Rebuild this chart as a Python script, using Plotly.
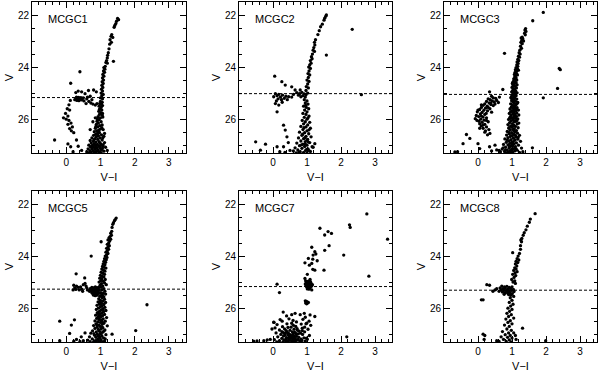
import plotly.graph_objects as go

# colour-magnitude diagrams: (V-I, V) per cluster
PANEL_NAMES = ["MCGC1", "MCGC2", "MCGC3", "MCGC5", "MCGC7", "MCGC8"]
HB_LEVEL = [25.17, 25.02, 25.05, 25.27, 25.17, 25.31]

MCGC1 = [
    (1.50, 22.13), (1.53, 22.18), (1.47, 22.24), (1.45, 22.33), (1.42, 22.40), (1.40, 22.47),
    (1.33, 22.75), (1.31, 22.82), (1.36, 22.86), (1.28, 22.95), (1.32, 23.05), (1.27, 23.12),
    (1.25, 23.30), (1.23, 23.45), (1.21, 23.55), (1.20, 23.65), (1.18, 23.75), (1.16, 23.82),
    (1.20, 23.85), (1.38, 23.78), (1.14, 23.97), (1.10, 24.02), (1.13, 24.08), (1.09, 24.15),
    (1.12, 24.20), (1.07, 24.28), (1.10, 24.35), (1.06, 24.42), (1.09, 24.50), (1.05, 24.56),
    (1.08, 24.63), (1.04, 24.70), (1.07, 24.78), (1.03, 24.85), (1.06, 24.92), (1.02, 25.00),
    (1.08, 25.05), (1.04, 25.10), (1.00, 25.18), (1.06, 25.22), (0.40, 24.18), (0.13, 24.62),
    (0.28, 24.98), (0.35, 24.92), (0.45, 24.95), (0.55, 25.02), (0.65, 24.90), (0.80, 24.88),
    (0.88, 24.95), (0.30, 25.15), (0.33, 25.18), (0.36, 25.16), (0.40, 25.19), (0.43, 25.17),
    (0.47, 25.20), (0.50, 25.18), (0.29, 25.22), (0.34, 25.24), (0.38, 25.23), (0.42, 25.25),
    (0.46, 25.26), (0.25, 25.25), (0.31, 25.28), (0.37, 25.29), (0.52, 25.30), (0.60, 25.22),
    (0.66, 25.32), (0.72, 25.38), (0.78, 25.42), (0.85, 25.46), (0.90, 25.40), (0.62, 25.15),
    (0.70, 25.12), (0.75, 25.25), (0.58, 25.40), (0.12, 25.28), (0.08, 25.45), (0.03, 25.60),
    (0.10, 25.65), (-0.02, 25.78), (0.05, 25.88), (-0.08, 25.95), (0.00, 26.00), (0.08, 26.05),
    (0.14, 26.15), (0.05, 26.20), (0.18, 26.30), (0.10, 26.36), (0.22, 26.52), (0.15, 26.45),
    (-0.34, 26.80), (0.30, 26.80), (0.35, 27.04), (0.13, 27.06), (0.05, 26.95), (0.45, 27.20),
    (0.20, 27.25), (1.00, 25.32), (1.05, 25.35), (0.98, 25.40), (1.03, 25.45), (0.96, 25.50),
    (1.02, 25.55), (1.06, 25.48), (0.99, 25.60), (1.04, 25.65), (0.95, 25.70), (1.01, 25.75),
    (0.97, 25.82), (1.05, 25.85), (0.93, 25.90), (1.00, 25.95), (1.07, 25.92), (0.96, 26.02),
    (0.90, 26.08), (1.02, 26.10), (0.94, 26.15), (0.88, 26.20), (1.05, 26.22), (0.98, 26.25),
    (0.92, 26.30), (0.85, 26.35), (1.00, 26.38), (0.95, 26.42), (1.08, 26.40), (0.89, 26.45),
    (0.82, 26.48), (0.97, 26.52), (0.91, 26.55), (0.86, 26.58), (1.03, 26.60), (0.80, 26.62),
    (0.94, 26.65), (0.88, 26.68), (1.10, 26.66), (0.75, 26.72), (0.99, 26.72), (0.84, 26.75),
    (0.92, 26.78), (1.05, 26.80), (0.70, 26.82), (0.79, 26.85), (0.96, 26.86), (0.87, 26.88),
    (1.12, 26.90), (0.73, 26.92), (0.82, 26.94), (1.01, 26.95), (0.91, 26.97), (0.66, 27.00),
    (0.77, 27.00), (0.86, 27.02), (0.95, 27.04), (1.07, 27.03), (0.71, 27.07), (0.80, 27.08),
    (1.15, 27.08), (0.90, 27.10), (0.99, 27.12), (0.64, 27.14), (0.75, 27.15), (0.84, 27.16),
    (1.04, 27.17), (0.93, 27.19), (0.69, 27.21), (0.79, 27.22), (0.88, 27.24), (1.10, 27.23),
    (0.97, 27.26), (0.73, 27.27), (0.83, 27.28), (1.02, 27.29), (0.60, 27.25), (1.20, 27.20),
    (0.70, 26.40), (0.78, 26.10), (0.85, 25.95), (1.12, 26.55), (1.08, 26.98),
    (1.03, 25.38), (0.97, 25.63), (1.06, 25.78), (0.91, 25.98), (1.04, 26.33), (0.87, 26.27),
    (0.93, 26.62), (1.07, 26.71), (0.81, 26.79), (0.98, 26.91), (0.74, 27.05), (0.92, 27.23),
    (1.06, 27.11), (0.68, 27.29), (0.86, 27.12), (1.00, 27.02), (0.95, 26.48), (0.83, 26.98),
]

MCGC2 = [
    (1.57, 22.00), (1.55, 22.05), (1.52, 22.12), (1.50, 22.20), (1.45, 22.35), (1.40, 22.45),
    (1.36, 22.60), (1.32, 22.75), (1.25, 22.95), (1.22, 23.05), (1.23, 23.15), (1.20, 23.25),
    (1.18, 23.35), (1.22, 23.40), (1.16, 23.50), (1.13, 23.60), (1.15, 23.68), (1.10, 23.75),
    (1.12, 23.85), (1.08, 23.92), (1.05, 24.00), (1.10, 24.05), (1.06, 24.15), (1.03, 24.25),
    (1.08, 24.30), (1.04, 24.40), (1.00, 24.50), (1.06, 24.55), (1.02, 24.65), (0.98, 24.75),
    (1.04, 24.80), (0.97, 24.90), (2.33, 22.55), (1.57, 23.54), (2.60, 25.06),
    (0.05, 24.35), (0.26, 24.56), (0.36, 24.69), (0.55, 24.76), (0.65, 24.88), (0.80, 24.88),
    (0.46, 25.14), (0.07, 25.02), (0.12, 25.10), (0.17, 25.05), (0.22, 25.15), (0.28, 25.08),
    (0.33, 25.20), (0.38, 25.12), (0.42, 25.25), (0.02, 25.14), (0.15, 25.22), (0.25, 25.25),
    (0.07, 25.40), (0.17, 25.46), (0.27, 25.35), (0.10, 25.30), (0.70, 24.98), (0.78, 25.02),
    (0.85, 24.97), (0.92, 25.03), (0.75, 25.08), (0.88, 25.10), (0.97, 25.06), (0.82, 25.14),
    (0.95, 25.15), (1.02, 25.00), (0.60, 25.05), (0.55, 25.15),
    (0.92, 25.25), (1.00, 25.30), (0.95, 25.38), (1.03, 25.42), (0.90, 25.50), (0.98, 25.55),
    (1.05, 25.60), (0.93, 25.65), (1.00, 25.72), (0.88, 25.78), (0.97, 25.82), (1.06, 25.88),
    (0.92, 25.93), (1.00, 26.00), (0.86, 26.05), (0.95, 26.10), (1.08, 26.12), (0.90, 26.18),
    (1.02, 26.22), (0.82, 26.28), (0.97, 26.30), (1.10, 26.35), (0.88, 26.40), (1.00, 26.45),
    (0.78, 26.50), (0.93, 26.52), (1.05, 26.56), (0.85, 26.62), (0.97, 26.66), (1.12, 26.68),
    (0.75, 26.72), (0.90, 26.75), (1.02, 26.78), (0.82, 26.84), (0.95, 26.86), (1.08, 26.90),
    (0.70, 26.92), (0.88, 26.96), (1.00, 27.00), (0.78, 27.02), (0.93, 27.05), (1.15, 27.06),
    (0.65, 27.10), (0.85, 27.12), (1.03, 27.14), (0.73, 27.18), (0.96, 27.20), (0.60, 27.22),
    (0.80, 27.25), (1.10, 27.24), (0.90, 27.28), (0.68, 27.30), (1.00, 27.30), (1.23, 26.94),
    (1.18, 27.08), (1.00, 26.80), (0.95, 26.95), (1.05, 27.20), (0.36, 26.42), (0.31, 26.23),
    (0.41, 26.68), (0.12, 27.06), (0.31, 27.06), (-0.51, 26.87), (-0.37, 27.19), (-0.22, 26.96),
    (0.12, 25.72), (0.45, 26.90), (0.20, 27.25), (0.50, 27.20), (0.35, 27.28),
    (0.96, 25.47), (1.03, 25.95), (0.91, 26.33), (1.06, 26.41), (0.94, 26.71), (0.84, 26.99),
    (1.04, 26.88), (0.99, 27.16), (0.76, 27.27), (0.87, 26.58),
]

MCGC3 = [
    (1.92, 21.90), (1.61, 22.22), (0.78, 23.47), (2.39, 24.05), (2.42, 24.10), (2.34, 24.82),
    (1.92, 25.18), (1.60, 27.10), (0.73, 24.86),
    (1.40, 22.52), (1.38, 22.58), (1.41, 22.63), (1.37, 22.70), (1.39, 22.76), (1.30, 22.85),
    (1.27, 22.88), (1.32, 22.92), (1.29, 22.97), (1.34, 23.00), (1.26, 23.05), (1.30, 23.10),
    (1.25, 23.20), (1.28, 23.28), (1.23, 23.35), (1.21, 23.45), (1.24, 23.50), (1.19, 23.58),
    (1.22, 23.62), (1.17, 23.70), (1.20, 23.75), (1.15, 23.80), (1.18, 23.86), (1.14, 23.92),
    (1.17, 23.97), (1.12, 24.02), (1.16, 24.06), (1.10, 24.10), (1.14, 24.15), (1.19, 24.12),
    (1.09, 24.20), (1.13, 24.24), (1.07, 24.28), (1.11, 24.32), (1.16, 24.30), (1.08, 24.38),
    (1.12, 24.42), (1.05, 24.45), (1.10, 24.48), (1.14, 24.50), (1.04, 24.55), (1.08, 24.58),
    (1.12, 24.60), (1.01, 24.63), (1.06, 24.66), (1.15, 24.68), (1.03, 24.72), (1.09, 24.74),
    (1.00, 24.78), (1.13, 24.80), (1.05, 24.83), (1.08, 24.87), (1.02, 24.90), (1.11, 24.92),
    (0.99, 24.95), (1.06, 24.97), (1.15, 24.99), (1.03, 25.02), (1.09, 25.05), (1.00, 25.08),
    (1.12, 25.10), (1.05, 25.13), (0.97, 25.16), (1.08, 25.18), (1.02, 25.21), (1.14, 25.23),
    (1.06, 25.26), (0.99, 25.29), (1.10, 25.31), (1.03, 25.34), (1.17, 25.36), (1.07, 25.39),
    (0.96, 25.41), (1.12, 25.44), (1.01, 25.46), (1.05, 25.49), (1.09, 25.52), (0.98, 25.54),
    (1.15, 25.56), (1.03, 25.58), (0.94, 25.61), (1.07, 25.63), (1.19, 25.65), (1.00, 25.67),
    (1.11, 25.69), (0.96, 25.72), (1.05, 25.74), (1.14, 25.76), (0.92, 25.78), (1.02, 25.80),
    (1.09, 25.82), (1.20, 25.84), (0.97, 25.86), (1.06, 25.88), (1.13, 25.90), (0.94, 25.93),
    (1.01, 25.95), (1.10, 25.97), (1.17, 25.99), (0.90, 26.01), (1.04, 26.03), (0.98, 26.06),
    (1.12, 26.08), (1.07, 26.10), (0.93, 26.13), (1.20, 26.15), (1.01, 26.17), (1.15, 26.19),
    (0.88, 26.21), (1.05, 26.23), (0.96, 26.26), (1.10, 26.28), (1.00, 26.31), (1.18, 26.33),
    (0.91, 26.35), (1.07, 26.37), (1.03, 26.40), (0.95, 26.42), (1.13, 26.44), (0.86, 26.47),
    (1.09, 26.49), (0.99, 26.52), (1.16, 26.54), (0.92, 26.56), (1.05, 26.58), (0.84, 26.61),
    (1.22, 26.62), (1.01, 26.64), (0.95, 26.67), (1.11, 26.69), (0.88, 26.71), (1.04, 26.73),
    (0.79, 26.76), (1.17, 26.77), (0.97, 26.79), (1.08, 26.81), (0.91, 26.84), (1.25, 26.85),
    (1.00, 26.87), (0.83, 26.89), (1.13, 26.91), (0.94, 26.93), (1.06, 26.95), (0.75, 26.97),
    (0.88, 26.99), (1.19, 27.00), (1.02, 27.02), (0.97, 27.04), (1.10, 27.06), (0.81, 27.08),
    (0.92, 27.10), (1.28, 27.11), (1.05, 27.13), (0.71, 27.15), (0.99, 27.16), (0.86, 27.18),
    (1.15, 27.19), (0.94, 27.21), (1.08, 27.22), (0.78, 27.24), (0.66, 27.25), (1.02, 27.26),
    (0.89, 27.27), (1.22, 27.28), (0.96, 27.29), (0.83, 27.30), (0.62, 27.20), (0.74, 27.10),
    (1.32, 27.25), (1.04, 25.95), (1.10, 26.62), (1.00, 26.95), (1.07, 24.88), (1.12, 25.62),
    (1.02, 24.60), (1.10, 24.96), (0.98, 25.20), (1.15, 25.40), (1.04, 25.70), (0.95, 25.97),
    (1.14, 26.05), (1.02, 26.27), (0.90, 26.50), (1.07, 26.46), (0.97, 26.63), (1.18, 26.70),
    (0.86, 26.81), (1.03, 26.88), (0.92, 27.02), (1.12, 27.14), (0.80, 27.20), (1.00, 27.24),
    (0.91, 26.33), (1.08, 25.85),
    (0.34, 24.95), (0.63, 25.15), (0.40, 25.12), (0.45, 25.18), (0.52, 25.20), (0.30, 25.22),
    (0.36, 25.25), (0.55, 25.28), (0.42, 25.30), (0.25, 25.32), (0.48, 25.34), (0.60, 25.36),
    (0.33, 25.38), (0.20, 25.41), (0.38, 25.44), (0.15, 25.47), (0.45, 25.48), (0.27, 25.50),
    (0.10, 25.55), (0.22, 25.58), (0.35, 25.60), (0.05, 25.63), (0.17, 25.66), (0.28, 25.68),
    (-0.02, 25.72), (0.12, 25.74), (0.40, 25.73), (0.07, 25.80), (0.20, 25.82), (-0.05, 25.86),
    (0.02, 25.90), (0.15, 25.92), (0.25, 25.95), (-0.08, 25.98), (0.08, 26.00), (0.18, 26.04),
    (0.03, 26.08), (0.12, 26.12), (0.30, 26.10), (0.05, 26.18), (0.20, 26.20), (0.10, 26.26),
    (0.25, 26.30), (0.15, 26.35), (0.32, 26.40), (0.22, 26.45), (0.35, 26.55), (0.28, 26.60),
    (0.10, 25.45), (0.30, 25.55), (0.00, 25.65), (0.24, 25.78), (0.10, 25.88), (-0.03, 26.05),
    (0.25, 26.05), (0.15, 26.22), (0.38, 25.38), (0.50, 25.42), (0.05, 26.35), (0.20, 26.50),
    (-0.34, 26.59), (-0.44, 26.94), (-0.24, 26.74), (-0.68, 27.26), (-0.60, 27.25), (0.00, 26.94),
    (0.05, 27.13), (0.34, 27.06), (0.40, 27.22), (0.50, 27.00), (0.55, 27.18),
]

MCGC5 = [
    (1.46, 22.54), (1.43, 22.60), (1.41, 22.64), (1.38, 22.72), (1.36, 22.78), (1.34, 22.90),
    (1.33, 23.05), (1.30, 23.12), (1.32, 23.20), (1.28, 23.25), (1.25, 23.30), (1.30, 23.35),
    (1.22, 23.38), (1.27, 23.42), (1.24, 23.50), (1.20, 23.55), (1.26, 23.60), (1.22, 23.66),
    (1.18, 23.70), (1.24, 23.74), (1.20, 23.80), (1.16, 23.85), (1.22, 23.90), (1.18, 23.95),
    (1.14, 24.00), (1.19, 24.05), (1.12, 24.10), (1.17, 24.14), (1.10, 24.20), (1.15, 24.24),
    (1.08, 24.30), (1.13, 24.33), (1.06, 24.40), (1.11, 24.43), (1.16, 24.46), (1.04, 24.50),
    (1.09, 24.54), (1.13, 24.58), (1.02, 24.62), (1.07, 24.66), (1.12, 24.70), (1.00, 24.74),
    (1.05, 24.78), (1.10, 24.80), (0.98, 24.85), (1.04, 24.88), (1.14, 24.90), (1.01, 24.94),
    (1.08, 24.97), (0.96, 25.00), (1.12, 25.03), (1.03, 25.06), (1.17, 25.10), (0.99, 25.12),
    (1.07, 25.15), (0.73, 24.00), (1.02, 23.45), (0.29, 24.68), (0.54, 24.84), (2.36, 25.87),
    (2.03, 26.86), (1.34, 27.00),
    (0.22, 25.12), (0.30, 25.15), (0.25, 25.22), (0.35, 25.20), (0.42, 25.18), (0.50, 25.10),
    (0.55, 25.05), (0.28, 25.28), (0.38, 25.30), (0.45, 25.27), (0.60, 25.22), (0.62, 25.30),
    (0.20, 25.30), (0.48, 25.35), (0.58, 25.15),
    (0.75, 25.20), (0.80, 25.22), (0.85, 25.18), (0.90, 25.21), (0.95, 25.20), (0.78, 25.26),
    (0.83, 25.28), (0.88, 25.25), (0.93, 25.27), (0.72, 25.30), (0.77, 25.32), (0.82, 25.34),
    (0.87, 25.31), (0.92, 25.33), (0.97, 25.30), (0.74, 25.37), (0.79, 25.38), (0.84, 25.40),
    (0.89, 25.37), (0.94, 25.39), (0.76, 25.43), (0.81, 25.45), (0.86, 25.44), (0.91, 25.46),
    (0.96, 25.43), (0.80, 25.50), (0.85, 25.52), (0.90, 25.50), (0.70, 25.25), (0.68, 25.35),
    (1.02, 25.20), (1.10, 25.25), (1.05, 25.30), (1.13, 25.35), (1.01, 25.40), (1.08, 25.43),
    (1.15, 25.46), (1.03, 25.50), (0.98, 25.55), (1.10, 25.57), (1.05, 25.60), (0.95, 25.64),
    (1.12, 25.66), (1.00, 25.70), (1.07, 25.73), (0.93, 25.76), (1.15, 25.78), (1.03, 25.81),
    (0.97, 25.84), (1.10, 25.86), (0.90, 25.89), (1.05, 25.91), (1.00, 25.95), (1.13, 25.97),
    (0.94, 26.00), (1.07, 26.02), (0.88, 26.05), (1.02, 26.07), (1.16, 26.09), (0.97, 26.12),
    (1.09, 26.14), (0.91, 26.17), (1.04, 26.19), (0.99, 26.22), (1.12, 26.24), (0.86, 26.27),
    (1.06, 26.29), (0.94, 26.32), (1.01, 26.34), (1.18, 26.36), (0.89, 26.39), (1.08, 26.41),
    (0.96, 26.44), (1.03, 26.46), (0.84, 26.49), (1.14, 26.50), (0.92, 26.53), (1.00, 26.55),
    (1.10, 26.58), (0.87, 26.60), (1.05, 26.62), (0.95, 26.65), (0.80, 26.67), (1.20, 26.68),
    (0.99, 26.70), (0.90, 26.73), (1.07, 26.75), (0.84, 26.78), (1.02, 26.80), (0.94, 26.82),
    (1.13, 26.84), (0.77, 26.87), (0.97, 26.89), (0.88, 26.91), (1.06, 26.93), (0.72, 26.96),
    (1.00, 26.98), (0.91, 27.00), (1.16, 27.02), (0.83, 27.04), (1.04, 27.06), (0.95, 27.08),
    (0.68, 27.10), (0.87, 27.12), (1.09, 27.14), (0.98, 27.16), (0.76, 27.18), (0.92, 27.20),
    (1.02, 27.22), (0.63, 27.23), (0.85, 27.25), (1.12, 27.26), (0.96, 27.28), (0.70, 27.29),
    (0.80, 27.30), (1.06, 27.30), (1.00, 25.85), (0.98, 26.30), (1.04, 26.72), (0.93, 27.05),
    (1.06, 25.52), (0.99, 25.77), (1.08, 26.06), (0.93, 26.21), (1.05, 26.52), (0.89, 26.63),
    (1.10, 26.88), (0.81, 26.98), (0.99, 27.11), (0.88, 27.27), (1.14, 27.18), (0.96, 26.40),
    (-0.19, 26.50), (0.15, 26.65), (0.24, 26.45), (0.10, 26.97), (0.44, 27.10), (-0.19, 27.25),
    (0.30, 27.20), (0.50, 27.25), (0.55, 26.95), (0.40, 27.28), (0.22, 27.27),
]

MCGC7 = [
    (2.76, 22.38), (2.25, 22.80), (2.27, 22.90), (1.38, 22.93), (1.62, 23.06), (1.72, 23.13),
    (1.52, 23.19), (3.37, 23.35), (1.65, 23.60), (1.14, 23.66), (1.23, 23.83), (1.26, 23.92),
    (1.18, 23.96), (2.08, 23.96), (1.04, 24.09), (1.17, 24.12), (1.30, 24.18), (0.94, 24.26),
    (1.14, 24.28), (1.07, 24.35), (1.17, 24.51), (1.23, 24.54), (1.50, 24.54), (1.01, 24.70),
    (2.82, 24.77), (0.94, 24.86), (1.09, 24.90), (1.52, 23.78),
    (0.96, 24.95), (1.00, 24.97), (1.05, 24.96), (1.10, 24.98), (0.98, 25.02), (1.03, 25.03),
    (1.08, 25.01), (1.12, 25.04), (0.95, 25.07), (1.00, 25.08), (1.05, 25.09), (1.10, 25.10),
    (0.97, 25.13), (1.02, 25.14), (1.07, 25.15), (1.13, 25.16), (0.99, 25.19), (1.04, 25.20),
    (1.09, 25.22), (1.01, 25.26), (1.14, 25.30), (1.06, 25.27), (1.16, 25.10),
    (0.12, 25.08), (0.19, 25.40),
    (0.95, 25.72), (0.98, 25.74), (1.00, 25.76), (0.96, 25.80), (1.02, 25.80), (0.99, 25.83),
    (1.04, 25.78), (1.09, 26.26), (1.23, 26.32), (0.99, 26.58), (0.92, 26.20), (0.95, 26.35),
    (0.80, 26.25), (0.65, 26.20), (0.55, 26.25), (0.30, 26.15), (0.40, 26.30),
    (0.21, 26.44), (0.47, 26.41), (0.59, 26.47), (0.88, 26.43), (1.06, 26.50), (0.03, 26.55),
    (0.27, 26.50), (0.55, 26.58), (0.69, 26.53), (0.97, 26.60), (0.12, 26.63), (0.41, 26.60),
    (0.60, 26.66), (0.83, 26.61), (1.11, 26.66), (0.28, 26.71), (0.44, 26.74), (0.67, 26.70),
    (0.86, 26.77), (0.06, 26.76), (0.34, 26.80), (0.53, 26.73), (0.71, 26.79), (0.93, 26.73),
    (0.19, 26.84), (0.39, 26.86), (0.62, 26.81), (0.77, 26.88), (1.03, 26.81), (0.26, 26.90),
    (0.50, 26.85), (0.64, 26.93), (0.86, 26.86), (0.09, 26.95), (0.36, 26.97), (0.57, 26.91),
    (0.74, 26.99), (0.93, 26.91), (0.23, 27.01), (0.45, 26.95), (0.60, 27.04), (0.81, 26.96),
    (1.07, 27.05), (0.31, 27.07), (0.49, 27.01), (0.69, 27.08), (0.87, 27.01), (0.14, 27.10),
    (0.40, 27.13), (0.56, 27.05), (0.76, 27.12), (0.98, 27.15), (0.26, 27.16), (0.46, 27.18),
    (0.64, 27.09), (0.83, 27.19), (0.04, 27.21), (0.32, 27.22), (0.53, 27.14), (0.71, 27.23),
    (0.91, 27.14), (0.19, 27.25), (0.42, 27.27), (0.59, 27.19), (0.79, 27.27), (1.01, 27.19),
    (0.29, 27.30), (0.49, 27.23), (0.66, 27.30), (0.85, 27.24), (0.11, 27.30), (0.37, 27.25),
    (0.56, 27.28), (0.74, 27.20), (0.95, 27.27), (0.41, 26.92), (0.59, 26.97), (0.48, 27.10),
    (0.66, 27.18), (0.55, 27.25), (0.35, 27.04), (0.45, 27.29), (0.63, 27.24), (0.72, 26.85),
    (0.31, 26.94), (0.52, 27.08), (0.38, 27.19), (0.68, 26.98), (0.44, 27.02), (0.58, 27.13),
    (-0.57, 27.27), (-0.47, 27.26), (-0.08, 27.20), (-0.03, 26.80), (0.02, 26.54),
    (-0.27, 27.25), (-0.17, 27.22), (2.17, 27.10),
]

MCGC8 = [
    (1.68, 22.37), (1.54, 22.58), (1.51, 22.70), (1.45, 22.85), (1.41, 22.99), (1.36, 23.10),
    (1.33, 23.20), (1.29, 23.32), (1.26, 23.38), (1.28, 23.45), (1.25, 23.60), (1.25, 23.74),
    (1.22, 23.90), (1.02, 23.87), (1.18, 24.00), (1.15, 24.10), (1.20, 24.15), (1.12, 24.20),
    (1.17, 24.25), (1.10, 24.30), (1.14, 24.38), (1.08, 24.45), (1.12, 24.50), (1.05, 24.55),
    (1.15, 24.60), (1.09, 24.65), (1.02, 24.70), (1.11, 24.75), (1.06, 24.82), (0.99, 24.90),
    (1.08, 24.95), (1.03, 25.00), (1.10, 25.05),
    (0.70, 25.15), (0.78, 25.18), (0.85, 25.16), (0.92, 25.20), (1.00, 25.18), (0.65, 25.22),
    (0.73, 25.25), (0.80, 25.24), (0.88, 25.27), (0.96, 25.25), (1.04, 25.28), (0.68, 25.30),
    (0.76, 25.32), (0.84, 25.33), (0.91, 25.35), (0.99, 25.32), (1.06, 25.36), (0.72, 25.38),
    (0.80, 25.40), (0.87, 25.42), (0.94, 25.40), (1.01, 25.44), (0.77, 25.47), (0.90, 25.48),
    (0.97, 25.50), (0.62, 25.35),
    (0.26, 25.10), (0.34, 25.12), (0.10, 25.68), (0.15, 25.68), (0.44, 25.35), (0.50, 25.30),
    (0.55, 25.25),
    (1.05, 25.55), (0.95, 25.60), (1.00, 25.70), (0.92, 25.78), (1.03, 25.85), (0.96, 25.92),
    (0.88, 26.00), (1.00, 26.05), (0.93, 26.12), (0.85, 26.20), (0.98, 26.25), (0.90, 26.32),
    (1.05, 26.38), (0.82, 26.42), (0.95, 26.48), (0.88, 26.55), (1.00, 26.60), (0.78, 26.65),
    (0.92, 26.70), (1.31, 26.77), (0.85, 26.80), (0.98, 26.85), (0.72, 26.90), (0.90, 26.95),
    (1.05, 26.95), (0.80, 27.02), (0.95, 27.05), (1.10, 27.05), (0.68, 27.10), (0.87, 27.12),
    (1.00, 27.15), (0.75, 27.20), (0.92, 27.22), (0.55, 27.25), (0.62, 27.28), (1.12, 27.20),
    (0.83, 27.28), (0.97, 27.30), (0.15, 27.00), (0.20, 27.05), (0.18, 27.20), (1.99, 27.25),
]

PANELS = [MCGC1, MCGC2, MCGC3, MCGC5, MCGC7, MCGC8]

# panel boxes in pixels of the 600 x 372 page
COL_X = [(32, 186), (239, 392), (444, 597)]
ROW_Y = [(2, 153), (191, 342)]
W, H = 600, 372
FONT = "Liberation Sans, Arial, sans-serif"

fig = go.Figure()
layout = {}
for i, (name, stars, level) in enumerate(zip(PANEL_NAMES, PANELS, HB_LEVEL)):
    sfx = "" if i == 0 else str(i + 1)
    r, c = divmod(i, 3)
    x0, x1 = COL_X[c]
    y0, y1 = ROW_Y[r]
    fig.add_trace(go.Scatter(
        x=[p[0] for p in stars], y=[p[1] for p in stars], mode="markers",
        xaxis=f"x{sfx}", yaxis=f"y{sfx}",
        marker=dict(size=3.3, color="black", line=dict(width=0)),
        showlegend=False, hoverinfo="skip",
    ))
    common = dict(
        showline=True, linecolor="black", linewidth=1, mirror="allticks",
        ticks="inside", ticklen=6, tickwidth=1, tickcolor="black",
        showgrid=False, zeroline=False, automargin=False,
        tickfont=dict(size=10, color="black", family=FONT),
    )
    layout[f"xaxis{sfx}"] = dict(
        common, domain=[x0 / W, x1 / W], anchor=f"y{sfx}", range=[-1, 3.5],
        tickmode="array", tickvals=[0, 1, 2, 3],
        minor=dict(dtick=0.2, tick0=0, ticks="inside", ticklen=3, tickcolor="black"),
        title=dict(text="V−I", font=dict(size=11, color="black", family=FONT), standoff=6),
    )
    layout[f"yaxis{sfx}"] = dict(
        common, domain=[1 - y1 / H, 1 - y0 / H], anchor=f"x{sfx}", range=[27.3, 21.5],
        tickmode="array", tickvals=[22, 24, 26],
        minor=dict(dtick=0.5, tick0=22, ticks="inside", ticklen=3, tickcolor="black"),
        title=dict(text="V", font=dict(size=11, color="black", family=FONT), standoff=2),
    )
    fig.add_shape(type="line", xref=f"x{sfx} domain", yref=f"y{sfx}", x0=0, x1=1,
                  y0=level, y1=level, line=dict(color="black", width=1, dash="3px,2px"))
    fig.add_annotation(text=name, xref=f"x{sfx} domain", yref=f"y{sfx} domain",
                       x=0.09, y=0.885, xanchor="left", yanchor="middle", showarrow=False,
                       font=dict(size=11, color="black", family=FONT))

fig.update_layout(
    **layout,
    width=W, height=H, margin=dict(l=0, r=0, t=0, b=0),
    paper_bgcolor="white", plot_bgcolor="white",
)
# the page's default body margin would push the fixed-size figure off the window
fig.write_html("out.html", config={"displayModeBar": False},
               post_script="document.body.style.margin='0';")
